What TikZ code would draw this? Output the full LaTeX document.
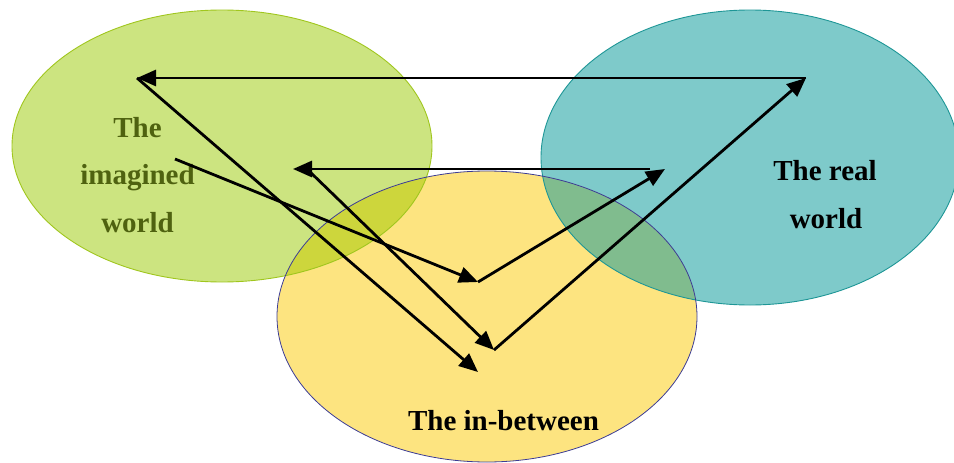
\documentclass[tikz,border=0pt]{standalone}
\usepackage{fontspec}
\setmainfont{Liberation Serif}
\usetikzlibrary{arrows.meta}
\definecolor{gfill}{RGB}{204,228,128}
\definecolor{tfill}{RGB}{126,202,202}
\definecolor{yfill}{RGB}{253,228,128}
\definecolor{gyfill}{RGB}{205,214,60}
\definecolor{tyfill}{RGB}{128,188,142}
\definecolor{gline}{RGB}{160,198,30}
\definecolor{tline}{RGB}{30,150,150}
\definecolor{yline}{RGB}{60,60,150}
\definecolor{olivetext}{RGB}{79,98,16}
\tikzset{
  flow/.style={line width=2.8pt, -{Triangle[length=19pt,width=16pt]}},
  lbl/.style={anchor=base, font=\fontsize{29}{35}\selectfont\bfseries, inner sep=0pt},
}
\begin{document}
\begin{tikzpicture}[x=1pt,y=-1pt]
\useasboundingbox (0,0) rectangle (954,463);
% ellipse fills
\fill[gfill] (222,146) ellipse [x radius=210pt, y radius=136pt];
\fill[tfill] (750,157.5) ellipse [x radius=209pt, y radius=147.5pt];
\fill[yfill] (487,316.5) ellipse [x radius=210pt, y radius=145.5pt];
% overlaps
\begin{scope}
  \clip (222,146) ellipse [x radius=210pt, y radius=136pt];
  \fill[gyfill] (487,316.5) ellipse [x radius=210pt, y radius=145.5pt];
\end{scope}
\begin{scope}
  \clip (750,157.5) ellipse [x radius=209pt, y radius=147.5pt];
  \fill[tyfill] (487,316.5) ellipse [x radius=210pt, y radius=145.5pt];
\end{scope}
% outlines
\draw[gline, line width=0.9pt] (222,146) ellipse [x radius=210pt, y radius=136pt];
\draw[tline, line width=0.9pt] (750,157.5) ellipse [x radius=209pt, y radius=147.5pt];
\draw[yline, line width=0.8pt] (487,316.5) ellipse [x radius=210pt, y radius=145.5pt];
% labels
\node[lbl, text=olivetext] (im1) at (137.5,137) {The};
\node[lbl, text=olivetext] (im2) at (137.5,184) {imagined};
\node[lbl, text=olivetext] (im3) at (137.5,232) {world};
\node[lbl] (re1) at (825,180) {The real};
\node[lbl] (re2) at (826,228) {world};
\node[lbl] (ib) at (503.5,430) {The in-between};
% points
\coordinate (TR) at (806,78);
\coordinate (TL) at (137,78);
\coordinate (S) at (175,159);
\coordinate (V1) at (478,282);
\coordinate (MR) at (665,169);
\coordinate (ME) at (650,169);
\coordinate (ML) at (293,169);
\coordinate (MS) at (308,170);
\coordinate (V2) at (494,350);
\coordinate (B) at (478,372);
% arrows
\draw[flow] (TR) -- (TL);
\draw[flow] (TL) -- (B);
\draw[flow] (S) -- (V1);
\draw[flow] (V1) -- (MR);
\draw[flow] (ME) -- (ML);
\draw[flow] (MS) -- (V2);
\draw[flow] (V2) -- (TR);
\end{tikzpicture}
\end{document}
